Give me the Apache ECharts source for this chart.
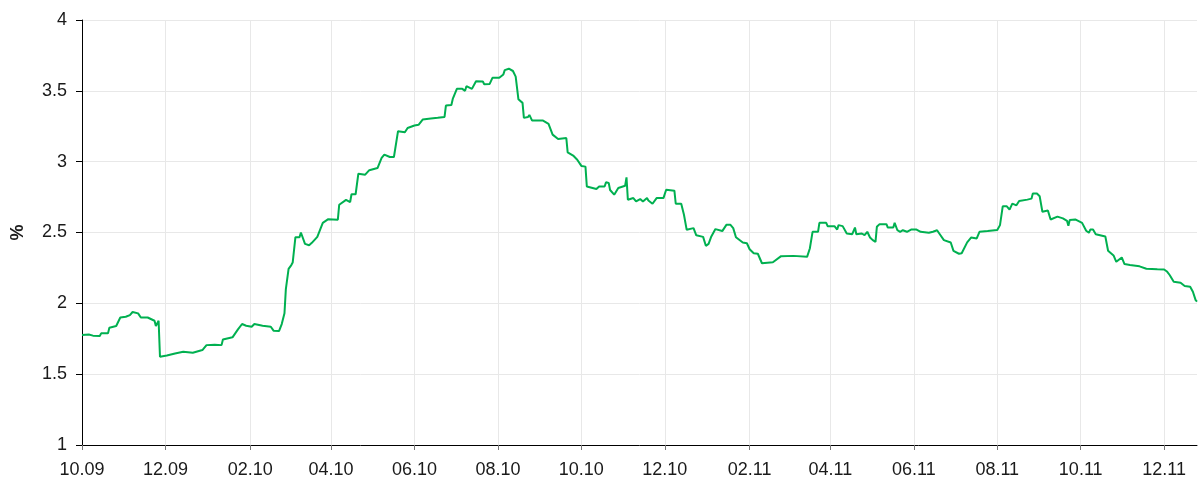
<!DOCTYPE html>
<html><head><meta charset="utf-8">
<script src="https://cdn.jsdelivr.net/npm/echarts@6/dist/echarts.min.js"></script>
<style>html,body{margin:0;padding:0;background:#fff}#c{width:1198px;height:482px}</style>
</head><body><div id="c"></div>
<script>
// Series: days elapsed since startDate, and the value (%) on that day
const startDate = '2009-10-01';
const dayOffsets = [
0,5,8,13,14,19,20,25,28,32,35,37,41,43,48,53,54,56,57,62,68,74,81,88,91,97,102,103,110,112,114,117,120,124,126,132,138,140,144,146,148,149,151,153,154,156,159,160,163,166,168,170,172,173,176,180,187,188,193,196,197,200,202,207,210,216,219,221,225,228,231,236,238,243,246,249,255,260,265,266,270,271,274,278,280,281,285,286,288,293,294,298,300,305,308,309,312,315,317,319,320,322,323,326,327,329,337,341,344,348,354,355,359,362,365,368,369,376,378,382,383,385,386,389,392,397,398,399,403,405,408,410,413,414,417,420,425,427,433,434,438,440,442,447,449,454,456,458,460,463,468,471,474,476,478,483,486,488,491,494,497,505,511,520,530,532,534,538,539,544,545,550,552,553,556,559,563,565,566,570,572,574,576,578,580,581,583,588,589,593,594,596,598,600,603,606,610,613,619,622,625,627,630,635,637,641,643,647,650,654,656,662,669,671,673,676,678,680,683,685,691,694,695,698,700,702,706,708,713,717,720,721,722,726,731,734,736,737,739,741,748,750,754,756,760,762,766,773,778,786,791,793,795,798,803,806,810,812,814,815
];
const values = [
1.776,1.78,1.772,1.769,1.788,1.788,1.828,1.84,1.90,1.905,1.917,1.939,1.929,1.90,1.90,1.877,1.84,1.877,1.623,1.632,1.646,1.658,1.651,1.67,1.705,1.708,1.705,1.745,1.76,1.788,1.816,1.854,1.842,1.835,1.854,1.842,1.835,1.807,1.804,1.854,1.93,2.10,2.243,2.27,2.288,2.467,2.467,2.50,2.42,2.41,2.427,2.448,2.469,2.483,2.568,2.594,2.59,2.696,2.73,2.715,2.77,2.77,2.915,2.908,2.94,2.955,3.026,3.05,3.033,3.033,3.215,3.208,3.238,3.255,3.26,3.297,3.305,3.31,3.316,3.396,3.40,3.443,3.514,3.514,3.50,3.533,3.514,3.505,3.568,3.566,3.547,3.549,3.592,3.592,3.616,3.646,3.656,3.64,3.60,3.44,3.45,3.415,3.309,3.315,3.33,3.29,3.29,3.267,3.191,3.16,3.167,3.066,3.043,3.014,2.97,2.965,2.825,2.807,2.825,2.825,2.854,2.85,2.80,2.767,2.814,2.83,2.889,2.731,2.743,2.719,2.736,2.719,2.743,2.726,2.703,2.743,2.743,2.802,2.795,2.703,2.703,2.625,2.519,2.531,2.48,2.469,2.406,2.42,2.472,2.524,2.51,2.554,2.554,2.531,2.467,2.429,2.424,2.382,2.354,2.35,2.283,2.29,2.333,2.335,2.328,2.387,2.505,2.505,2.568,2.568,2.545,2.545,2.521,2.552,2.545,2.493,2.488,2.535,2.488,2.493,2.481,2.505,2.465,2.446,2.434,2.54,2.559,2.559,2.535,2.535,2.568,2.516,2.505,2.516,2.505,2.521,2.521,2.505,2.498,2.505,2.516,2.488,2.446,2.429,2.37,2.35,2.354,2.43,2.465,2.458,2.505,2.51,2.517,2.552,2.685,2.685,2.662,2.704,2.692,2.723,2.732,2.739,2.775,2.775,2.756,2.646,2.655,2.592,2.612,2.60,2.582,2.547,2.589,2.592,2.568,2.512,2.498,2.521,2.521,2.488,2.472,2.371,2.338,2.293,2.324,2.277,2.27,2.261,2.244,2.24,2.239,2.225,2.2,2.153,2.145,2.122,2.117,2.082,2.023,2.012
];
// X-axis tick dates and their labels
const tickDates = ['2009-10-01','2009-12-01','2010-02-01','2010-04-01','2010-06-01','2010-08-01','2010-10-01','2010-12-01','2011-02-01','2011-04-01','2011-06-01','2011-08-01','2011-10-01','2011-12-01'];
const tickLabels = ['10.09','12.09','02.10','04.10','06.10','08.10','10.10','12.10','02.11','04.11','06.11','08.11','10.11','12.11'];
const yAxisName = '%';

const DAY = 86400000;
function ts(s){ const p = s.split('-').map(Number); return Date.UTC(p[0], p[1]-1, p[2]); }
const t0 = ts(startDate);
// x coordinate = days since startDate (linear in time)
const seriesData = dayOffsets.map((d,i) => [d, values[i]]);
const tickDays = tickDates.map(s => Math.round((ts(s) - t0) / DAY));
const labelMap = {};
tickDays.forEach((d,i) => { labelMap[d] = tickLabels[i]; });

const FONT = "'Liberation Sans', Arial, sans-serif";
const chart = echarts.init(document.getElementById('c'), null, {renderer:'canvas'});
chart.setOption({
  animation: false,
  backgroundColor: '#fff',
  grid: { left: 82, top: 20, right: 1, bottom: 37, containLabel: false },
  xAxis: {
    type: 'value',
    min: 0,
    max: dayOffsets[dayOffsets.length-1],
    axisLine: { show: true, onZero: false, lineStyle: { color: '#000', width: 1 } },
    axisTick: { show: true, customValues: tickDays, length: 5, lineStyle: { color: '#777' } },
    axisLabel: {
      customValues: tickDays,
      formatter: v => labelMap[v] || '',
      color: '#1a1a1a', fontSize: 18, fontFamily: FONT, margin: 16,
      hideOverlap: false
    },
    splitLine: { show: true, lineStyle: { color: '#e8e8e8', width: 1 } }
  },
  yAxis: {
    type: 'value',
    min: 1, max: 4, interval: 0.5,
    name: yAxisName, nameLocation: 'middle', nameGap: 55, nameRotate: 90,
    nameTextStyle: { color: '#1a1a1a', fontSize: 18, fontWeight: 'bold', fontFamily: FONT },
    axisLine: { show: true, lineStyle: { color: '#000', width: 1 } },
    axisTick: { show: true, length: 6, lineStyle: { color: '#000' } },
    axisLabel: { color: '#1a1a1a', fontSize: 18, fontFamily: FONT, margin: 15 },
    splitLine: { show: true, lineStyle: { color: '#e8e8e8', width: 1 } }
  },
  series: [{
    type: 'line',
    data: seriesData,
    showSymbol: false,
    symbol: 'none',
    lineStyle: { color: '#00b050', width: 2 },
    itemStyle: { color: '#00b050' }
  }]
});
</script>
</body></html>
